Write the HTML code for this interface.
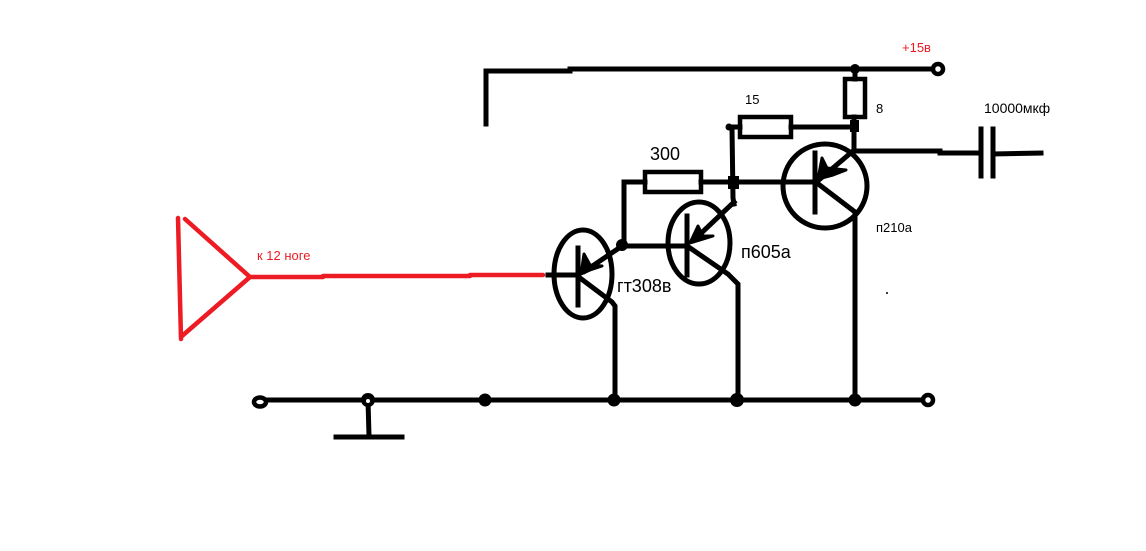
<!DOCTYPE html>
<html><head><meta charset="utf-8"><style>
html,body{margin:0;padding:0;background:#fff;}
svg{display:block;}
text{font-family:"Liberation Sans","DejaVu Sans",sans-serif;}
</style></head><body>
<svg width="1146" height="551" viewBox="0 0 1146 551" xmlns="http://www.w3.org/2000/svg">
<rect width="1146" height="551" fill="#fff"/>
<g stroke="#000" stroke-width="5" fill="none" stroke-linecap="square">
  <!-- top rail -->
  <polyline points="486,124 486,71 570,71 570,69 930,69"/>
  <!-- resistor 8 -->
  <rect x="845" y="79" width="20" height="38" stroke-width="4.5"/>
  <line x1="855" y1="69" x2="855" y2="79"/>
  <line x1="854" y1="117" x2="854" y2="150"/>
  <!-- resistor 15 -->
  <rect x="740" y="117" width="51" height="20" stroke-width="4.5"/>
  <line x1="729" y1="127" x2="740" y2="127"/>
  <line x1="791" y1="127" x2="854" y2="127"/>
  <polyline points="732,128 733,198 734,204"/>
  <!-- resistor 300 -->
  <rect x="645" y="172" width="56" height="20" stroke-width="4.5"/>
  <polyline points="624,245 624,182 645,182"/>
  <line x1="701" y1="182" x2="814" y2="182"/>
  <!-- output to capacitor -->
  <polyline points="854,151 940,151 940,153 981,153"/>
  <line x1="981" y1="129" x2="981" y2="176"/>
  <line x1="993" y1="129" x2="993" y2="176"/>
  <line x1="993" y1="154" x2="1041" y2="153"/>
  <!-- п210а -->
  <ellipse cx="825" cy="186" rx="42" ry="42"/>
  <line x1="815" y1="153" x2="815" y2="212"/>
  <line x1="853" y1="151" x2="820" y2="179"/>
  <polyline points="817,183 855,212 855,400"/>
  <!-- п605а -->
  <ellipse cx="699" cy="243" rx="31" ry="41"/>
  <line x1="687" y1="216" x2="687" y2="275"/>
  <line x1="624" y1="246" x2="687" y2="246"/>
  <line x1="734" y1="202" x2="694" y2="240"/>
  <polyline points="690,248 728,274 738,284 738,400"/>
  <!-- гт308в -->
  <ellipse cx="583" cy="274" rx="29" ry="44"/>
  <line x1="578" y1="248" x2="578" y2="305"/>
  <line x1="548" y1="275" x2="578" y2="275"/>
  <line x1="622" y1="246" x2="585" y2="271"/>
  <polyline points="580,278 612,302 615,306 615,400"/>
  <!-- ground rail -->
  <line x1="266" y1="400" x2="922" y2="400"/>
  <line x1="368" y1="400" x2="369" y2="436"/>
  <line x1="336" y1="437" x2="402" y2="437"/>
</g>
<!-- arrowheads -->
<g fill="#000" stroke="#000" stroke-width="3" stroke-linejoin="round">
  <polygon points="818,179 822,158 827,168 846,170 833,175"/>
  <polygon points="690,243 698,226 703,236 713,236 700,240"/>
  <polygon points="581,274 584,254 590,265 602,266 590,270"/>
</g>
<!-- junctions -->
<g fill="#000">
  <circle cx="855" cy="69" r="5"/>
  <rect x="850" y="120" width="9" height="12"/>
  <circle cx="729" cy="127" r="3.5"/>
  <rect x="728" y="176" width="11" height="13"/>
  <circle cx="622" cy="245" r="6"/>
  <circle cx="368" cy="400" r="7"/>
  <circle cx="485" cy="400" r="6.5"/>
  <circle cx="614" cy="400" r="6.5"/>
  <circle cx="737" cy="400" r="7"/>
  <circle cx="855" cy="400" r="6.5"/>
</g>
<circle cx="368" cy="401" r="2" fill="#fff"/>
<!-- terminals -->
<g fill="#fff" stroke="#000" stroke-width="4.5">
  <circle cx="938" cy="69" r="5"/>
  <circle cx="928" cy="400" r="5"/>
  <ellipse cx="260" cy="402" rx="6" ry="4.5"/>
</g>
<!-- red input -->
<g stroke="#ed1c24" stroke-width="4.5" fill="none" stroke-linecap="round" stroke-linejoin="round">
  <line x1="178" y1="218" x2="181" y2="339"/>
  <polyline points="185,219 250,277 182,336"/>
  <polyline points="250,277 323,277 323,276 470,276 470,275 543,275"/>
</g>
<!-- labels -->
<text x="902" y="52" font-size="13" fill="#ed1c24">+15в</text>
<text x="745" y="104" font-size="13" fill="#000">15</text>
<text x="876" y="113" font-size="13" fill="#000">8</text>
<text x="984" y="113" font-size="14" fill="#000">10000мкф</text>
<text x="650" y="160" font-size="18" fill="#000">300</text>
<text x="876" y="232" font-size="13" fill="#000">п210а</text>
<text x="741" y="258" font-size="18" fill="#000">п605а</text>
<text x="617" y="292" font-size="18" fill="#000">гт308в</text>
<text x="257" y="260" font-size="13" fill="#ed1c24">к 12 ноге</text>
<circle cx="887" cy="293" r="1" fill="#000"/>
</svg>
</body></html>
